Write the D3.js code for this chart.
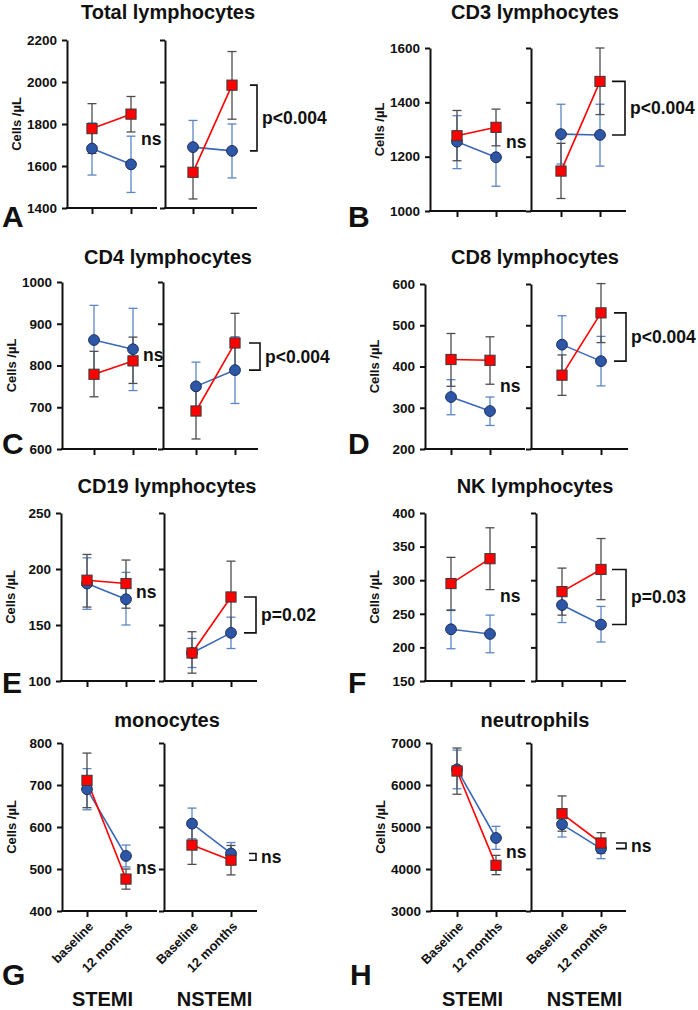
<!DOCTYPE html>
<html>
<head>
<meta charset="utf-8">
<script src="https://cdn.jsdelivr.net/npm/d3@7/dist/d3.min.js"></script>
<style>
  body { margin: 0; background: #fff; }
  text { font-family: "Liberation Sans", Arial, Helvetica, sans-serif; font-weight: bold; fill: #111; }
</style>
</head>
<body>
<svg id="chart" width="698" height="1010"></svg>
<script>
// each row of values: [STEMI baseline, STEMI 12 months, NSTEMI baseline, NSTEMI 12 months]
const titles = ["Total lymphocytes", "CD3 lymphocytes", "CD4 lymphocytes", "CD8 lymphocytes",
                "CD19 lymphocytes", "NK lymphocytes", "monocytes", "neutrophils"];
const letters = ["A", "B", "C", "D", "E", "F", "G", "H"];
const yDomains = [[1400, 2200], [1000, 1600], [600, 1000], [200, 600],
                  [100, 250], [150, 400], [400, 800], [3000, 7000]];
const yTicks = [
  [1400, 1600, 1800, 2000, 2200],
  [1000, 1200, 1400, 1600],
  [600, 700, 800, 900, 1000],
  [200, 300, 400, 500, 600],
  [100, 150, 200, 250],
  [150, 200, 250, 300, 350, 400],
  [400, 500, 600, 700, 800],
  [3000, 4000, 5000, 6000, 7000]
];

const redMean = [
  [1778, 1847, 1570, 1985], [1277, 1308, 1147, 1477], [779, 811, 691, 854], [417, 415, 379, 530],
  [190, 187, 125, 175], [295, 332, 283, 316], [711, 476, 557, 521], [6333, 4087, 5317, 4619]
];
const redLo = [
  [1660, 1762, 1443, 1823], [1185, 1240, 1046, 1355], [725, 757, 624, 781], [352, 357, 330, 458],
  [166, 165, 107, 143], [255, 286, 248, 271], [646, 452, 511, 486], [5780, 3865, 4900, 4380]
];
const redHi = [
  [1897, 1931, 1700, 2145], [1370, 1375, 1249, 1600], [834, 868, 752, 925], [480, 472, 428, 601],
  [213, 208, 144, 207], [334, 378, 318, 362], [776, 500, 603, 556], [6880, 4325, 5740, 4865]
];
const blueMean = [
  [1683, 1608, 1690, 1672], [1255, 1198, 1283, 1280], [861, 839, 750, 789], [326, 292, 453, 413],
  [187, 173, 125, 143], [227, 220, 263, 234], [690, 531, 608, 537], [6373, 4738, 5063, 4484]
];
const blueLo = [
  [1557, 1474, 1563, 1543], [1156, 1091, 1173, 1165], [778, 740, 692, 709], [283, 257, 383, 353],
  [164, 150, 112, 129], [198, 192, 237, 208], [641, 505, 572, 512], [5910, 4468, 4762, 4246]
];
const blueHi = [
  [1805, 1742, 1817, 1800], [1351, 1305, 1393, 1393], [944, 937, 808, 869], [368, 326, 523, 473],
  [210, 197, 138, 157], [256, 248, 289, 261], [739, 557, 645, 563], [6830, 5016, 5364, 4722]
];

const stemiLabels = ["ns", "ns", "ns", "ns", "ns", "ns", "ns", "ns"];
const nstemiLabels = ["p<0.004", "p<0.004", "p<0.004", "p<0.004", "p=0.02", "p=0.03", "ns", "ns"];
const timeLabels = [["baseline", "12 months"], ["Baseline", "12 months"]];
const timeLabelsH = [["Baseline", "12 months"], ["Baseline", "12 months"]];
const groups = ["STEMI", "NSTEMI"];

// panel placement (pixels)
const layout = [
  { lx: 67,  lw: 90,  t1: 92,  rx: 165, rw: 92, r1: 193, top: 40,  bot: 208, tx: 168, ty: 19,  letX: 2,   letY: 227, arm: 7 },
  { lx: 430, lw: 96,  t1: 457, rx: 531, rw: 95, r1: 561, top: 48,  bot: 211, tx: 535, ty: 19,  letX: 348, letY: 227, arm: 13 },
  { lx: 62,  lw: 95,  t1: 94,  rx: 163, rw: 95, r1: 196, top: 282, bot: 449, tx: 168, ty: 264, letX: 2,   letY: 454, arm: 11 },
  { lx: 425, lw: 100, t1: 451, rx: 531, rw: 97, r1: 562, top: 284, bot: 449, tx: 535, ty: 264, letX: 348, letY: 454, arm: 12 },
  { lx: 61,  lw: 94,  t1: 87,  rx: 164, rw: 93, r1: 192, top: 513, bot: 681, tx: 167, ty: 493, letX: 2,   letY: 693, arm: 12 },
  { lx: 425, lw: 100, t1: 451, rx: 536, rw: 90, r1: 562, top: 513, bot: 681, tx: 535, ty: 493, letX: 348, letY: 693, arm: 14 },
  { lx: 62,  lw: 95,  t1: 87,  rx: 164, rw: 93, r1: 192, top: 743, bot: 911, tx: 167, ty: 727, letX: 2,   letY: 985, arm: 7 },
  { lx: 431, lw: 95,  t1: 457, rx: 531, rw: 95, r1: 562, top: 743, bot: 911, tx: 535, ty: 727, letX: 350, letY: 985, arm: 10 }
];
const step = 39;
const groupShift = [-4, 3];

const RED = "#ff0000", RED_BAR = "#4d4d4d";
const BLUE = "#2d56a6", BLUE_LINE = "#3a68b8", BLUE_BAR = "#5b85c4";

const svg = d3.select("#chart");

layout.forEach((p, i) => {
  const g = svg.append("g");
  const y = d3.scaleLinear().domain(yDomains[i]).range([p.bot, p.top]);

  // title and panel letter
  g.append("text").attr("x", p.tx).attr("y", p.ty).attr("text-anchor", "middle")
    .style("font-size", "20px").text(titles[i]);
  g.append("text").attr("x", p.letX).attr("y", p.letY)
    .style("font-size", "30px").text(letters[i]);

  // y label
  g.append("text")
    .attr("transform", `translate(${p.lx - 51},${(p.top + p.bot) / 2}) rotate(-90)`)
    .attr("text-anchor", "middle").attr("dy", "0.35em")
    .style("font-size", "13px").text("Cells /\u00b5L");

  const subplots = [
    { ax: p.lx, w: p.lw, t: p.t1, idx: [0, 1] },
    { ax: p.rx, w: p.rw, t: p.r1, idx: [2, 3] }
  ];

  subplots.forEach((s, k) => {
    const x = d3.scalePoint().domain([0, 1]).range([s.t, s.t + step]);

    // y axis (labels only on the first subplot)
    const yAxis = d3.axisLeft(y).tickValues(yTicks[i]).tickSize(5).tickSizeOuter(0)
      .tickPadding(5).tickFormat(k === 1 ? "" : d3.format("d"));
    const ya = g.append("g").attr("transform", `translate(${s.ax},0)`).call(yAxis);
    ya.selectAll("text").style("font-size", "13.5px");

    // x axis
    const xa = g.append("g").attr("transform", `translate(0,${p.bot})`)
      .call(d3.axisBottom(x).tickSize(6).tickFormat(""));
    xa.select(".domain").remove();
    g.append("line").attr("x1", s.ax - 1).attr("x2", s.ax + s.w)
      .attr("y1", p.bot).attr("y2", p.bot)
      .attr("stroke", "#111").attr("stroke-width", 2);

    [ya, xa].forEach(a => a.selectAll("path, line").attr("stroke", "#111").attr("stroke-width", 2));

    // error bars
    const series = [
      { mean: blueMean[i], lo: blueLo[i], hi: blueHi[i], bar: BLUE_BAR },
      { mean: redMean[i], lo: redLo[i], hi: redHi[i], bar: RED_BAR }
    ];
    series.forEach(se => {
      s.idx.forEach((di, j) => {
        const cx = x(j);
        g.append("line").attr("x1", cx).attr("x2", cx)
          .attr("y1", y(se.lo[di])).attr("y2", y(se.hi[di]))
          .attr("stroke", se.bar).attr("stroke-width", 1.3);
        [se.lo[di], se.hi[di]].forEach(v => {
          g.append("line").attr("x1", cx - 4.5).attr("x2", cx + 4.5)
            .attr("y1", y(v)).attr("y2", y(v))
            .attr("stroke", se.bar).attr("stroke-width", 1.3);
        });
      });
    });

    const line = d3.line().x((d, j) => x(j)).y(d => y(d));
    const bluePts = s.idx.map(di => blueMean[i][di]);
    const redPts = s.idx.map(di => redMean[i][di]);

    g.append("path").attr("d", line(bluePts)).attr("fill", "none")
      .attr("stroke", BLUE_LINE).attr("stroke-width", 1.6);
    g.append("path").attr("d", line(redPts)).attr("fill", "none")
      .attr("stroke", RED).attr("stroke-width", 1.6);

    g.selectAll(null).data(bluePts).enter().append("circle")
      .attr("cx", (d, j) => x(j)).attr("cy", d => y(d)).attr("r", 5.4)
      .attr("fill", BLUE).attr("stroke", "#1d2f5c").attr("stroke-width", 1);
    g.selectAll(null).data(redPts).enter().append("rect")
      .attr("x", (d, j) => x(j) - 5.1).attr("y", d => y(d) - 5.1)
      .attr("width", 10.2).attr("height", 10.2)
      .attr("fill", RED).attr("stroke", "#3a3a3a").attr("stroke-width", 1);

    const yr = y(redPts[1]), yb = y(bluePts[1]);
    if (k === 0) {
      // STEMI annotation
      g.append("text").attr("x", s.t + step + 10).attr("y", (yr + yb) / 2)
        .attr("dy", "0.35em").style("font-size", "17.5px").text(stemiLabels[i]);
    } else {
      // NSTEMI bracket
      const vx = s.t + step + 25;
      g.append("path")
        .attr("d", `M${vx - p.arm},${yr}H${vx}V${yb}H${vx - p.arm}`)
        .attr("fill", "none").attr("stroke", "#111").attr("stroke-width", 1.6);
      g.append("text").attr("x", vx + 5).attr("y", (yr + yb) / 2)
        .attr("dy", "0.35em").style("font-size", "17.5px").text(nstemiLabels[i]);
    }

    // bottom row: time labels and group names
    if (i >= 6) {
      const labs = (i === 6 ? timeLabels : timeLabelsH)[k];
      labs.forEach((t, j) => {
        g.append("text")
          .attr("transform", `translate(${x(j) + 4},${p.bot + 13}) rotate(-45)`)
          .attr("text-anchor", "end").attr("dy", "0.35em")
          .style("font-size", "13px").text(t);
      });
      g.append("text").attr("x", s.t + step / 2 + groupShift[k]).attr("y", 1006)
        .attr("text-anchor", "middle").style("font-size", "20px").text(groups[k]);
    }
  });
});
</script>
</body>
</html>
